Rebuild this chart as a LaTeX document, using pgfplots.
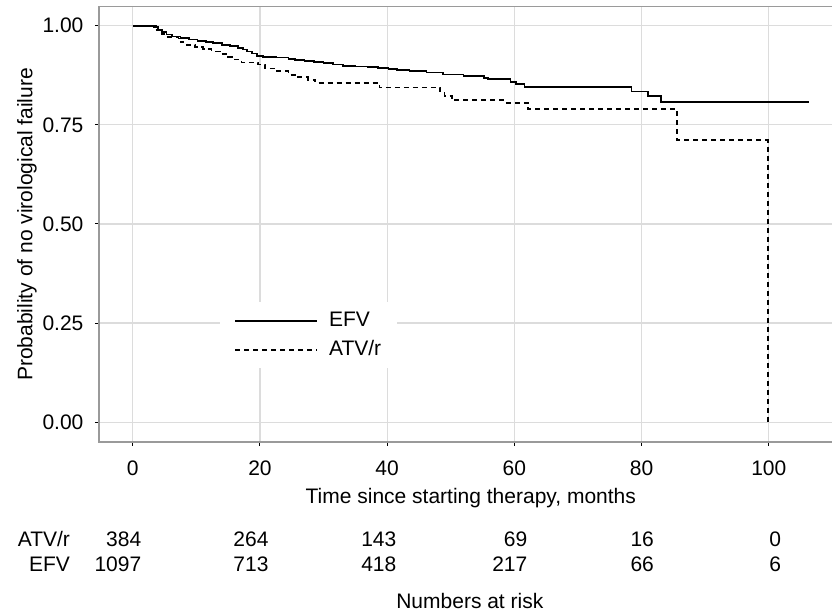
\documentclass[border=0pt]{standalone}
\usepackage{pgfplots}
\pgfplotsset{compat=1.18}
\usepackage{fontspec}
\setmainfont{Liberation Sans}
\definecolor{gridc}{HTML}{DCDCDC}
\definecolor{framec}{HTML}{9A9A9A}

\begin{document}
\fontsize{10.5}{12.6}\selectfont
\begin{tikzpicture}
\begin{axis}[
  name=ax,
  scale only axis, width=371.8pt, height=217.65pt,
  xmin=-5.3, xmax=111.6, ymin=-0.05, ymax=1.048,
  xtick={0,20,40,60,80,100}, xticklabels={0,20,40,60,80,100},
  ytick={0,0.25,0.5,0.75,1}, yticklabels={0.00,0.25,0.50,0.75,1.00},
  tick pos=left, tick align=outside, major tick length=2pt,
  tick style={black, line width=0.5pt},
  axis line style={framec, line width=0.65pt},
  grid=major, major grid style={gridc, line width=0.6pt},
  xticklabel style={anchor=north, inner sep=0pt, yshift=-7.4pt},
  yticklabel style={anchor=east, inner sep=0pt, xshift=-5.6pt},
  xlabel={Time since starting therapy, months},
  xlabel style={at={(axis description cs:0.5,-0.142)}, anchor=base},
  ylabel={Probability of no virological failure},
  ylabel style={at={(axis description cs:-0.0895,0.5)}, anchor=base},
  clip=false,
  legend image code/.code={\draw[#1] (0pt,0pt) -- (41pt,0pt);},
  legend cell align=left,
  legend style={at={(axis description cs:0.1626,0.3216)}, anchor=north west,
    draw=none, fill=white, inner xsep=7pt, inner ysep=3.4pt, row sep=2.55pt,
    nodes={inner sep=1pt, text height=7.6pt, text depth=2.2pt},
    /tikz/every odd column/.append style={column sep=4.5pt}},
]
% EFV
\addplot[const plot, black, line width=0.9pt] coordinates {
(0,1.000) (3.4,0.997) (4.0,0.990) (4.6,0.984) (5.3,0.978) (6.2,0.973)
(7.5,0.969) (8.8,0.965) (10.2,0.962) (11.5,0.959) (12.6,0.956) (14.0,0.952)
(15.3,0.948) (16.5,0.944) (17.3,0.940) (18.0,0.935) (18.8,0.930) (19.6,0.924)
(20.5,0.921) (22.5,0.920) (24.5,0.917) (25.5,0.913) (27,0.911) (28.5,0.908)
(30,0.905) (31.5,0.902) (33,0.899) (35,0.897) (37,0.895) (38.5,0.894)
(40.2,0.891) (41.5,0.888) (43.5,0.886) (46.2,0.882) (48.8,0.877) (52,0.873)
(55.2,0.868) (55.8,0.865) (59.4,0.859) (60.2,0.852) (61.6,0.846)
(78.4,0.834) (81,0.822) (83.1,0.807) (106.3,0.807)};
% ATV/r
\addplot[const plot, black, line width=0.9pt, dash pattern=on 2.6pt off 1.9pt] coordinates {
(0,1.000) (3.6,0.990) (4.3,0.980) (5.0,0.972) (7.2,0.968) (7.5,0.958)
(8.5,0.952) (9.8,0.946) (11,0.941) (12.4,0.935) (13.7,0.929) (15,0.922)
(16,0.915) (17.1,0.907) (19.7,0.902) (20.8,0.892) (22.5,0.885) (24.5,0.876)
(26,0.870) (27.6,0.864) (28.7,0.856) (38.8,0.844) (48.3,0.835) (49,0.823)
(50.2,0.812) (58.3,0.806) (62.2,0.789) (85.6,0.711) (99.85,0.0)};
\legend{EFV, ATV/r}
% numbers at risk
\addplot[draw=none, mark=none, nodes near coords={\pgfplotspointmeta},
  point meta=explicit symbolic,
  every node near coord/.style={anchor=base east, inner sep=0pt}]
  table[meta=n] {
x y n
1.4 -0.3148 384
21.4 -0.3148 264
41.5 -0.3148 143
62.1 -0.3148 69
82.0 -0.3148 16
102.0 -0.3148 0
1.4 -0.3778 1097
21.4 -0.3778 713
41.5 -0.3778 418
62.1 -0.3778 217
82.0 -0.3778 66
102.0 -0.3778 6
};
\node[anchor=base east, inner sep=0pt] at (axis cs:-9.8,-0.3148) {ATV/r};
\node[anchor=base east, inner sep=0pt] at (axis cs:-9.8,-0.3778) {EFV};
\node[anchor=base, inner sep=0pt] at (axis cs:53.0,-0.4705) {Numbers at risk};
\end{axis}
\pgfresetboundingbox
\path[use as bounding box] ([shift={(-49.5pt,-85.5pt)}]ax.south west) rectangle ([shift={(366.5pt,3.35pt)}]ax.north west);
\end{tikzpicture}
\end{document}
